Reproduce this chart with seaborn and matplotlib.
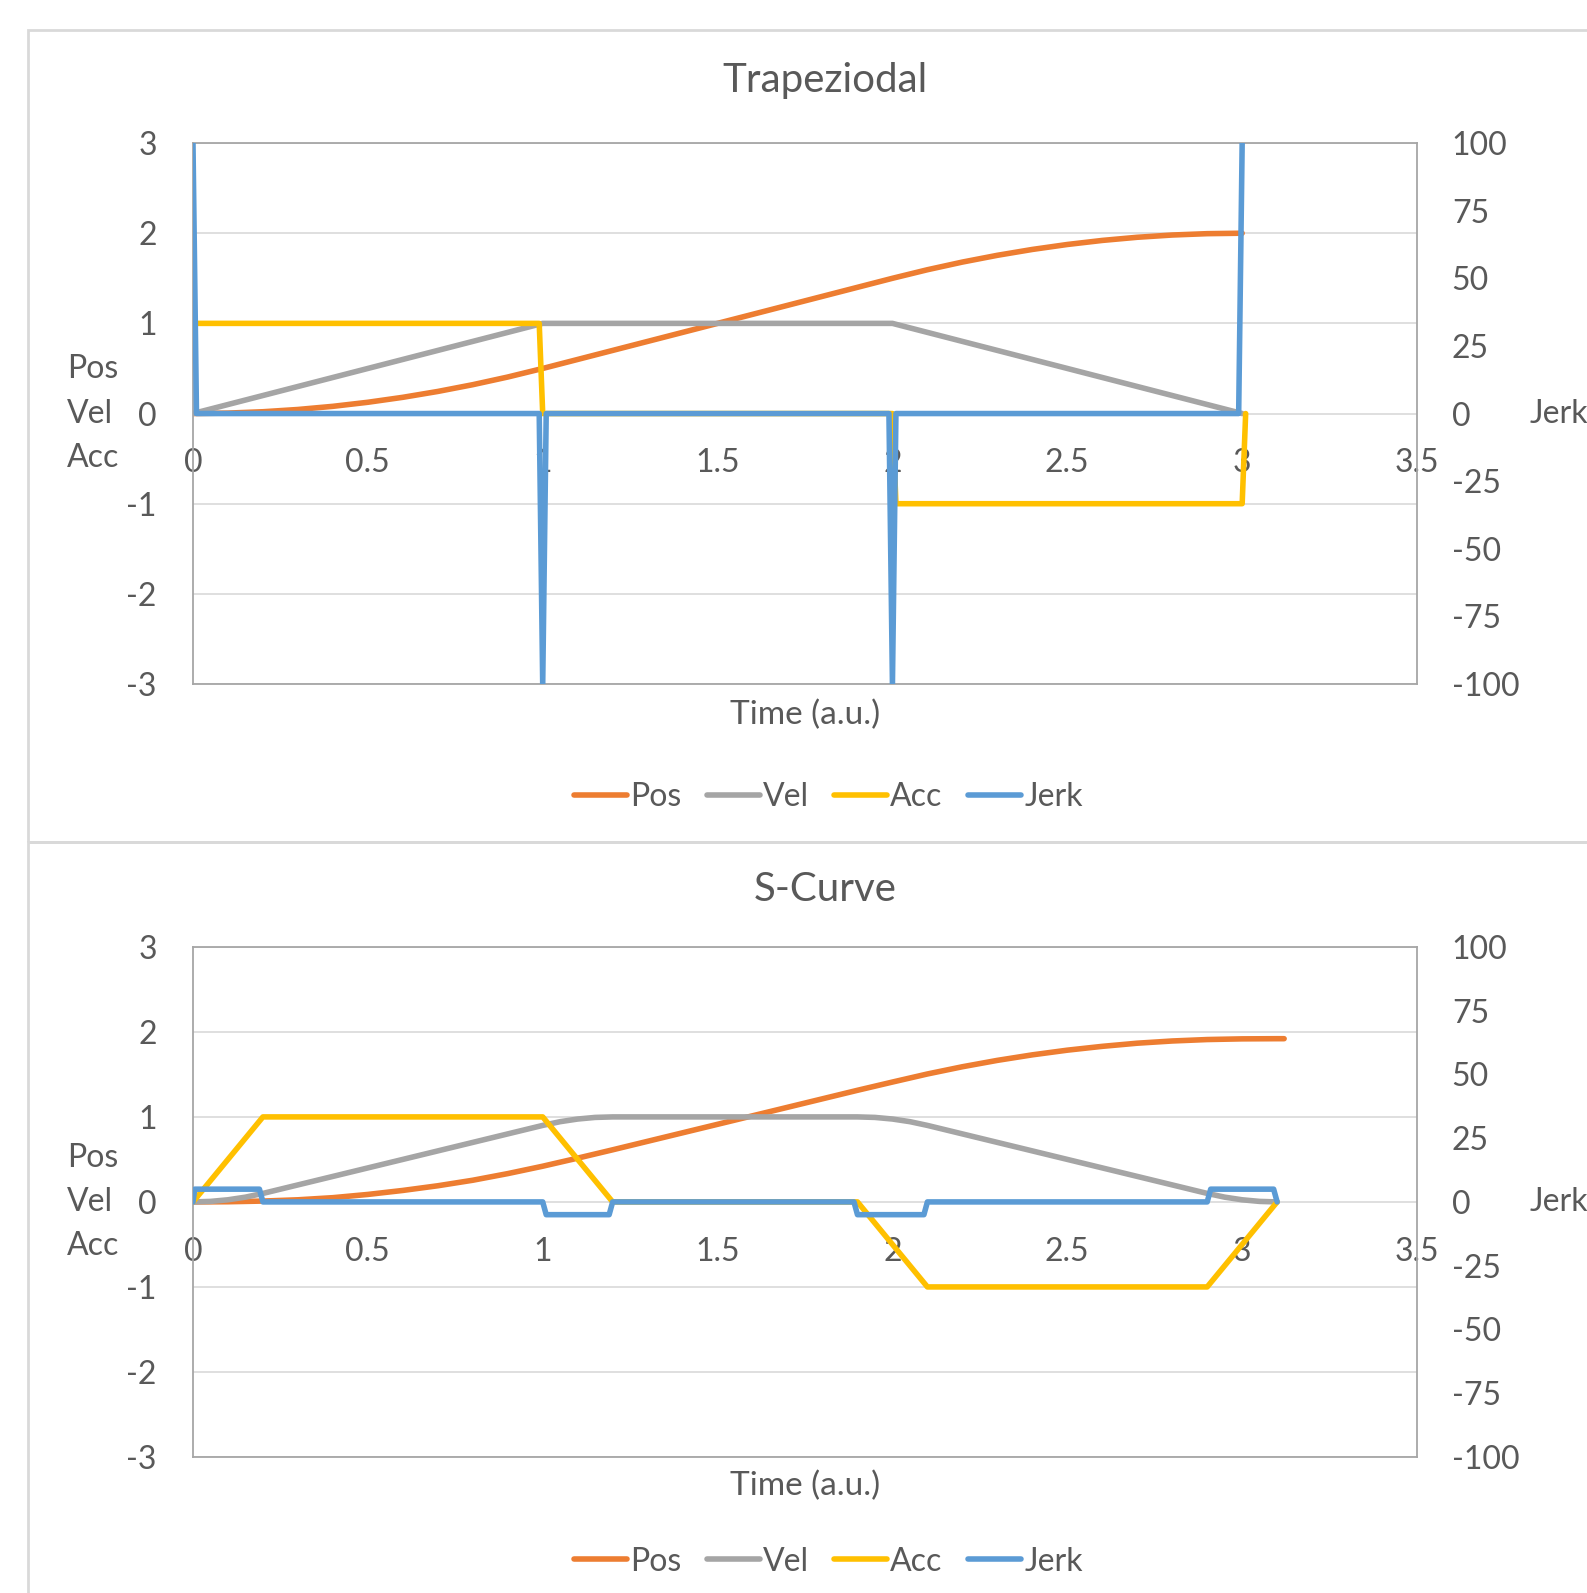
import numpy as np
import pandas as pd
import matplotlib
matplotlib.use('Agg')
import matplotlib.pyplot as plt
import seaborn as sns
from matplotlib.patches import Rectangle

sns.set_style('white')
plt.rcParams['font.family'] = ['Lato', 'DejaVu Sans']
plt.rcParams['axes.unicode_minus'] = False

# ---- data: trapezoidal profile ----
trap_pos_t = [0, 0.1, 0.2, 0.3, 0.4, 0.5, 0.6, 0.7, 0.8, 0.9, 1.0,
              1.1, 1.2, 1.3, 1.4, 1.5, 1.6, 1.7, 1.8, 1.9, 2.0,
              2.1, 2.2, 2.3, 2.4, 2.5, 2.6, 2.7, 2.8, 2.9, 3.0]
trap_pos = [0, 0.005, 0.02, 0.045, 0.08, 0.125, 0.18, 0.245, 0.32, 0.405, 0.5,
            0.6, 0.7, 0.8, 0.9, 1.0, 1.1, 1.2, 1.3, 1.4, 1.5,
            1.595, 1.68, 1.755, 1.82, 1.875, 1.92, 1.955, 1.98, 1.995, 2.0]
trap_vel_t = [0, 1.0, 2.0, 3.0]
trap_vel = [0, 1, 1, 0]
trap_acc_t = [0, 0.99, 1.0, 2.0, 2.01, 3.0, 3.01]
trap_acc = [1, 1, 0, 0, -1, -1, 0]
trap_jerk_t = [0, 0.01, 0.99, 1.0, 1.01, 1.99, 2.0, 2.01, 2.99, 3.0]
trap_jerk = [100, 0, 0, -100, 0, 0, -100, 0, 0, 100]

# ---- data: S-curve profile ----
s_pos_t = [0, 0.1, 0.2, 0.3, 0.4, 0.5, 0.6, 0.7, 0.8, 0.9, 1.0,
           1.1, 1.2, 1.3, 1.4, 1.5, 1.6, 1.7, 1.8, 1.9, 2.0,
           2.1, 2.2, 2.3, 2.4, 2.5, 2.6, 2.7, 2.8, 2.9, 3.0, 3.1, 3.12]
s_pos = [0, 0.002, 0.01, 0.025, 0.05, 0.088, 0.135, 0.19, 0.255, 0.333, 0.42,
         0.515, 0.613, 0.713, 0.813, 0.913, 1.013, 1.113, 1.213, 1.313, 1.41,
         1.505, 1.59, 1.665, 1.73, 1.785, 1.83, 1.867, 1.893, 1.91, 1.918, 1.92, 1.92]
s_vel_t = [0, 0.05, 0.1, 0.15, 0.2, 0.3, 0.4, 0.5, 0.6, 0.7, 0.8, 0.9,
           1.0, 1.05, 1.1, 1.15, 1.2, 1.9, 1.95, 2.0, 2.05, 2.1,
           2.2, 2.3, 2.4, 2.5, 2.6, 2.7, 2.8, 2.9, 2.95, 3.0, 3.05, 3.1]
s_vel = [0, 0.006, 0.025, 0.056, 0.1, 0.2, 0.3, 0.4, 0.5, 0.6, 0.7, 0.8,
         0.9, 0.944, 0.975, 0.994, 1.0, 1.0, 0.994, 0.975, 0.944, 0.9,
         0.8, 0.7, 0.6, 0.5, 0.4, 0.3, 0.2, 0.1, 0.056, 0.025, 0.006, 0.0]
s_acc_t = [0, 0.2, 1.0, 1.2, 1.9, 2.1, 2.9, 3.1]
s_acc = [0, 1, 1, 0, 0, -1, -1, 0]
s_jerk_t = [0, 0.005, 0.19, 0.2, 1.0, 1.01, 1.19, 1.2,
            1.89, 1.9, 2.09, 2.1, 2.9, 2.91, 3.09, 3.1]
s_jerk = [0, 5, 5, 0, 0, -5, -5, 0, 0, -5, -5, 0, 0, 5, 5, 0]

x_ticks = [0, 0.5, 1, 1.5, 2, 2.5, 3, 3.5]
x_tick_labels = ['0', '0.5', '1', '1.5', '2', '2.5', '3', '3.5']
left_ticks = [-3, -2, -1, 0, 1, 2, 3]
right_ticks = [-100, -75, -50, -25, 0, 25, 50, 75, 100]

C_POS, C_VEL, C_ACC, C_JERK = '#ED7D31', '#A5A5A5', '#FFC000', '#5B9BD5'
TXT = '#595959'
GRID = '#D9D9D9'
FS = 23
FS_LAB = 24
LW = 4.0


def draw_panel(ax, title, title_y, xlab_y, pos, vel, acc, jerk):
    kw = dict(ax=ax, lw=LW, estimator=None, sort=False,
              solid_capstyle='round', solid_joinstyle='round')
    sns.lineplot(x=pos[0], y=pos[1], color=C_POS, label='Pos', **kw)
    sns.lineplot(x=vel[0], y=vel[1], color=C_VEL, label='Vel', **kw)
    sns.lineplot(x=acc[0], y=acc[1], color=C_ACC, label='Acc', **kw)
    ax2 = ax.twinx()
    kw['ax'] = ax2
    sns.lineplot(x=jerk[0], y=jerk[1], color=C_JERK, label='Jerk', **kw)
    for a in (ax, ax2):
        if a.get_legend() is not None:
            a.get_legend().remove()

    ax.set_xlim(0, 3.5)
    ax.set_ylim(-3, 3)
    ax.set_yticks(left_ticks)
    ax.yaxis.grid(True, color=GRID, lw=1.2)
    ax.xaxis.grid(False)
    ax.set_axisbelow(True)
    for s in ax.spines.values():
        s.set_color('#A6A6A6')
        s.set_linewidth(1.3)
    ax.tick_params(axis='x', length=0, labelbottom=False)
    ax.tick_params(axis='y', length=0, pad=26, labelsize=FS, labelcolor=TXT)

    ax2.set_ylim(-100, 100)
    ax2.set_yticks(right_ticks)
    for s in ax2.spines.values():
        s.set_visible(False)
    ax2.tick_params(axis='y', length=0, pad=25, labelsize=FS, labelcolor=TXT)

    # x tick labels sit along the zero line, like Excel's crossing axis
    sec = ax.secondary_xaxis(0.49999)
    sec.set_xticks(x_ticks, labels=x_tick_labels)
    for s in sec.spines.values():
        s.set_visible(False)
    sec.tick_params(length=0, pad=25, labelsize=FS, labelcolor=TXT)

    ax.set_ylabel('Pos\nVel\nAcc', rotation=0, fontsize=FS, color=TXT,
                  ha='left', va='center', multialignment='left', linespacing=1.6)
    ax.yaxis.set_label_coords(-0.103, 0.5)
    ax2.set_ylabel('Jerk', rotation=0, fontsize=FS, color=TXT, ha='left', va='center')
    ax2.yaxis.set_label_coords(1.0923, 0.5)
    ax.set_xlabel('Time (a.u.)', fontsize=FS_LAB, color=TXT, va='center')
    ax.xaxis.set_label_coords(0.5, xlab_y)
    ax.text(0.5163, title_y, title, transform=ax.transAxes, ha='center', va='center',
            fontsize=29, color=TXT)
    return ax2


fig = plt.figure(figsize=(15.87, 15.93), dpi=100)
fig.patch.set_facecolor('white')

# chart-area borders
fig.add_artist(Rectangle((28 / 1587, 1 - 842 / 1593), 1.2, (842 - 30) / 1593,
                         transform=fig.transFigure, fill=False, ec=GRID, lw=2, clip_on=False))
fig.add_artist(Rectangle((28 / 1587, -0.2), 1.2, 0.2 + (1593 - 842) / 1593,
                         transform=fig.transFigure, fill=False, ec=GRID, lw=2, clip_on=False))

ax_top = fig.add_axes([0.1216, 0.5706, 0.7713, 0.3396])
ax_bot = fig.add_axes([0.1216, 0.0854, 0.7713, 0.3202])

draw_panel(ax_top, 'Trapeziodal', 1.115, -0.058,
           (trap_pos_t, trap_pos), (trap_vel_t, trap_vel),
           (trap_acc_t, trap_acc), (trap_jerk_t, trap_jerk))
draw_panel(ax_bot, 'S-Curve', 1.112, -0.056,
           (s_pos_t, s_pos), (s_vel_t, s_vel),
           (s_acc_t, s_acc), (s_jerk_t, s_jerk))

for ax, y in ((ax_top, 1 - 797.5 / 1593), (ax_bot, 1 - 1561.6 / 1593)):
    h1, l1 = ax.get_legend_handles_labels()
    twin = [a for a in ax.figure.axes if a is not ax and a.bbox.bounds == ax.bbox.bounds]
    h2, l2 = [], []
    for t in twin:
        hh, ll = t.get_legend_handles_labels()
        h2 += hh
        l2 += ll
    fig.legend(h1 + h2, l1 + l2, loc='center', bbox_to_anchor=(0.522, y), ncol=4,
               frameon=False, fontsize=FS, handlelength=1.65, handletextpad=0.1,
               columnspacing=0.8, labelcolor=TXT)

fig.savefig('out.png', dpi=100)
